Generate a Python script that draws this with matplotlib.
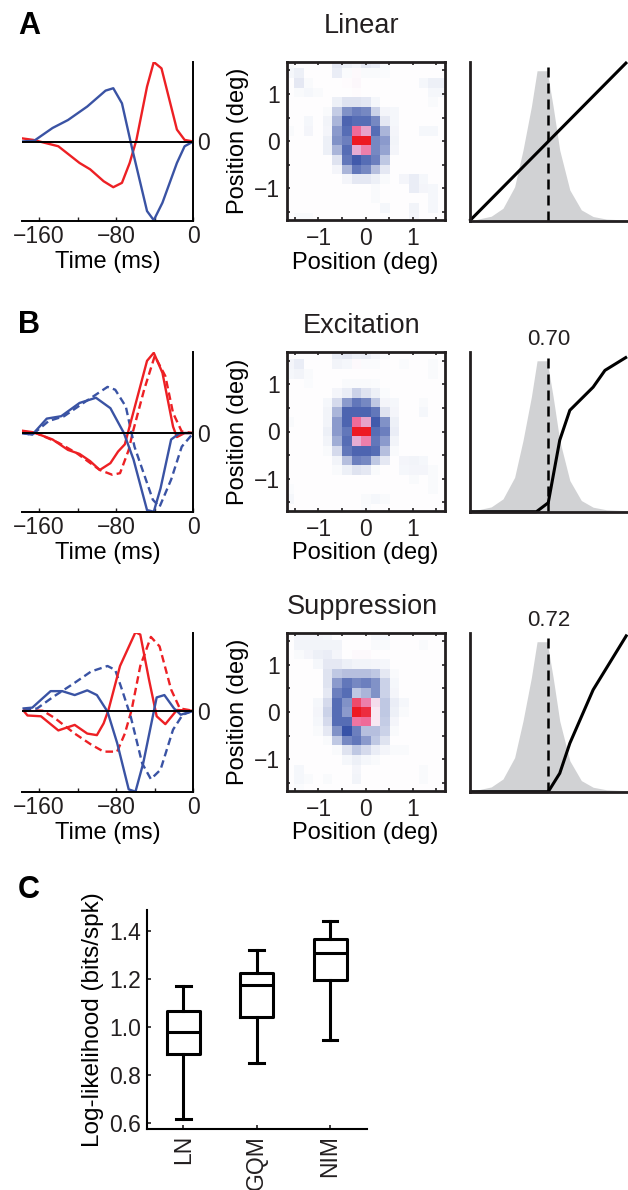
import numpy as np
import matplotlib
matplotlib.use("Agg")
import matplotlib.pyplot as plt
from matplotlib.colors import LinearSegmentedColormap
from matplotlib.ticker import FixedLocator, FormatStrFormatter

plt.rcParams['font.family'] = ['Liberation Sans', 'DejaVu Sans']
plt.rcParams['font.size'] = 16.5
TXT = '#231f20'
plt.rcParams['text.color'] = TXT
plt.rcParams['xtick.color'] = TXT
plt.rcParams['ytick.color'] = TXT
LABEL_SIZE = 17

RED = '#ed2024'
BLUE = '#3a53a4'
GRAY = '#d1d2d4'

# ---- temporal kernels (time in ms, normalized amplitude) ----
lin_red_t = [-178, -166, -140, -118, -107, -93, -83, -74, -66, -59, -48, -41, -33, -17, -9, 0]
lin_red_v = [0.04, 0.02, -0.06, -0.27, -0.35, -0.5, -0.575, -0.52, -0.27, 0.02, 0.69, 1.0, 0.92, 0.15, 0.02, 0]
lin_blue_t = [-178, -165, -146, -130, -110, -91, -83, -74, -64, -48, -41, -32, -17, -9, 0]
lin_blue_v = [0, 0.01, 0.17, 0.27, 0.44, 0.64, 0.67, 0.48, -0.06, -0.875, -0.99, -0.77, -0.27, -0.06, 0]

exc_red_t = [-178, -166, -146, -130, -118, -107, -97, -86, -78, -71, -48, -41, -32, -21, -17, -9, 0]
exc_red_v = [0.03, 0.01, -0.08, -0.21, -0.26, -0.35, -0.46, -0.375, -0.23, -0.14, 0.9, 1.0, 0.75, 0.08, -0.05, 0, 0]
exc_red2_t = [-178, -163, -140, -121, -97, -84, -76, -67, -63, -51, -40, -29, -21, -12, 0]
exc_red2_v = [0.02, 0, -0.12, -0.25, -0.46, -0.52, -0.5, -0.21, 0, 0.54, 0.96, 0.71, 0.25, 0.02, 0]
exc_blue_t = [-178, -167, -152, -137, -118, -101, -86, -72, -62, -48, -41, -34, -23, -14, 0]
exc_blue_v = [0, -0.02, 0.18, 0.21, 0.375, 0.44, 0.31, 0, -0.33, -0.96, -0.98, -0.69, -0.08, 0, 0]
exc_blue2_t = [-178, -167, -150, -134, -114, -89, -81, -70, -61, -42, -35, -23, -12, 0]
exc_blue2_v = [0, -0.02, 0.15, 0.21, 0.375, 0.575, 0.54, 0.33, -0.17, -0.83, -0.92, -0.58, -0.17, 0]

sup_red_t = [-176, -172, -158, -140, -123, -110, -100, -93, -88, -76, -60, -55, -46, -38, -29, -17, 0]
sup_red_v = [0, -0.06, -0.07, -0.25, -0.18, -0.29, -0.31, -0.16, 0.01, 0.57, 1.0, 0.97, 0.4, -0.07, -0.17, 0.01, 0]
sup_red2_t = [-176, -156, -144, -123, -106, -93, -79, -71, -64, -55, -44, -35, -23, -14, 0]
sup_red2_v = [0.01, 0, -0.09, -0.29, -0.43, -0.52, -0.52, -0.29, 0.01, 0.57, 0.94, 0.82, 0.27, 0.03, 0]
sup_blue_t = [-176, -167, -158, -148, -136, -123, -110, -100, -89, -79, -67, -60, -52, -38, -30, -20, -13, 0]
sup_blue_v = [0.03, 0.04, 0.14, 0.25, 0.25, 0.2, 0.26, 0.2, -0.01, -0.41, -1.0, -1.03, -0.67, 0.17, 0.2, 0.03, -0.05, 0]
sup_blue2_t = [-176, -162, -145, -125, -106, -89, -81, -74, -65, -53, -44, -34, -21, -11, 0]
sup_blue2_v = [0, 0.03, 0.18, 0.34, 0.5, 0.57, 0.52, 0.27, -0.07, -0.67, -0.87, -0.75, -0.24, -0.05, 0]

# ---- spatial kernels, 17x17 pixels, values x100 (neg = blue, pos = red) ----
lin_space = [
    [-3, 0, 0, 0, 0, -12, -8, -5, -12, -10, -3, 0, 0, 0, 0, 0, 0],
    [-4, -8, 0, 0, 0, -10, -2, 2, -3, -3, -2, 0, 0, 0, 0, 0, 0],
    [0, -12, -3, 0, 0, 0, 1, 3, 0, 0, 0, 0, 0, 0, -4, -8, -8],
    [0, -3, -4, -3, 0, 0, 0, 1, 0, 0, 0, 0, 0, 0, 0, -4, -4],
    [0, 0, 0, 0, 0, -8, -15, -15, -13, -4, 0, 0, 0, 0, 0, -3, 0],
    [0, 0, 0, 0, -3, -28, -60, -70, -65, -25, -5, -4, 0, 0, 0, 0, 0],
    [0, 0, -4, 0, -6, -40, -85, -80, -80, -65, -12, -4, 0, 0, 0, 0, 0],
    [-3, 0, -5, 0, -5, -55, -80, 60, 35, -80, -40, -5, 0, 0, -4, -4, 0],
    [0, 0, 0, 0, -8, -60, -70, 100, 100, -65, -55, -6, 0, 0, 0, 0, 0],
    [0, 0, 0, 0, -8, -40, -80, 30, 50, -65, -50, -5, 0, 0, 0, 0, 0],
    [0, 0, 0, 0, 0, -15, -75, -90, -80, -70, -30, 0, 0, 0, 0, 0, 0],
    [0, 0, 0, 0, 0, -5, -40, -75, -65, -35, -12, 0, 0, 0, 0, 0, 0],
    [0, 0, 0, 0, 0, 0, -5, -12, -12, -8, -3, 0, -5, -10, -4, 0, 0],
    [0, 0, 0, 0, 0, 0, 0, 0, 0, -3, 0, 0, 0, -10, -5, -4, 0],
    [0, 0, 0, 0, 0, 0, 0, 0, 0, -3, 0, 0, 0, 0, 0, -4, 0],
    [0, 0, 0, 0, 0, 0, 0, 0, 0, 0, -4, 0, 0, -6, 0, -4, 0],
    [0, -3, -3, 0, 0, 0, 0, 0, 0, 0, 0, 0, 0, -5, 0, 0, 0],
]
exc_space = [
    [0, 0, 0, 0, 0, -10, -12, -8, -10, -5, -2, 0, 0, 0, 0, 0, 0],
    [-5, -10, 0, 0, 0, -6, -4, 2, -2, -2, 0, 0, -2, 0, 0, -3, 0],
    [-4, -6, -3, 0, 0, 0, 0, 0, 0, 0, 0, 0, 0, 0, 0, -3, 0],
    [0, 0, -2, 0, 0, 0, -3, -3, -3, -2, 0, 0, 0, 0, 0, 0, 0],
    [0, 0, 0, 0, 0, -5, -10, -25, -15, -8, -2, 0, 0, 0, 0, 0, 0],
    [0, 0, 0, 0, -4, -20, -55, -75, -65, -30, -5, -4, 0, 0, -3, 0, 0],
    [0, 0, 0, 0, -6, -40, -85, -85, -85, -75, -15, -5, 0, 0, -4, 0, 0],
    [-3, 0, 0, 0, -6, -55, -85, 60, 35, -90, -60, -8, 0, 0, 0, 0, 0],
    [0, 0, 0, 0, -8, -55, -75, 100, 100, -80, -70, -10, 0, 0, 0, 0, 0],
    [0, 0, 0, 0, -6, -45, -80, 30, 50, -75, -55, -6, 0, 0, 0, 0, 0],
    [0, 0, 0, 0, -3, -20, -75, -85, -85, -80, -35, -3, 0, 0, 0, 0, 0],
    [0, 0, 0, 0, 0, -6, -35, -70, -65, -30, -12, 0, -5, -6, -4, 0, 0],
    [0, 0, 0, 0, 0, -3, -8, -15, -12, -3, 0, 0, -4, -5, -5, -3, 0],
    [0, 0, 0, 0, 0, 0, 0, 0, 0, 0, 0, 0, 0, -3, 0, -3, 0],
    [-2, 0, 0, 0, 0, 0, 0, 0, 0, 0, 0, 0, 0, 0, 0, -3, 0],
    [-4, 0, 0, 0, 0, 0, 0, 0, -3, -4, -3, 0, 0, 0, 0, 0, 0],
    [0, 0, 0, 0, 0, 0, 0, 0, -2, 0, 0, 0, 0, 0, 0, 0, 0],
]
sup_space = [
    [0, -5, -5, -5, -4, 0, 0, 0, 0, -4, -4, 0, 0, 0, 0, 0, 0],
    [0, -6, -6, -6, -6, -6, 0, 0, 0, -3, -3, 0, 0, 0, -3, 0, 0],
    [0, -3, -5, -8, -10, -5, 0, 2, 2, 0, 0, 0, 0, 0, 0, 0, 0],
    [0, 0, 0, -4, -12, -12, -8, -6, -6, -5, -4, 0, 0, 0, 0, 0, 0],
    [0, 0, 0, 0, -15, -30, -35, -35, -35, -30, -12, -3, 0, 0, 0, 0, 0],
    [0, 0, 0, 0, -15, -55, -75, -65, -70, -60, -25, -4, 0, 0, 0, 0, 0],
    [0, 0, 0, 0, -12, -70, -80, -30, -40, -60, -25, -5, 0, 0, 0, 0, 0],
    [0, 0, 0, -4, -20, -80, -60, 75, 50, 12, -30, -10, -4, 0, 0, 0, 0],
    [0, 0, 0, -5, -25, -80, -55, 100, 90, 8, -30, -8, -3, 0, 0, 0, 0],
    [0, 0, 0, -4, -20, -80, -80, 55, 60, 8, -28, -5, 0, 0, 0, 0, 0],
    [0, 0, 0, -3, -12, -60, -95, -70, -35, -35, -25, -3, 0, 0, 0, 0, 0],
    [0, 0, 0, 0, -3, -30, -65, -75, -55, -30, -15, 0, 0, 0, 0, 0, 0],
    [0, 0, 0, 0, 0, -3, -15, -30, -20, -10, -5, -3, -3, 0, 0, 0, 0],
    [0, 0, 0, 0, 0, 0, -4, -8, -4, -3, 0, 0, 0, 0, 0, 0, 0],
    [0, -4, 0, 0, 0, 0, 0, -5, 0, 0, 0, 0, 0, 0, -3, 0, 0],
    [0, -4, -3, 0, -3, 0, 0, -6, 0, 0, 0, 0, 0, 0, -3, 0, 0],
    [0, -2, 0, 0, 0, 0, 0, 0, 0, 0, 0, 0, 0, 0, 0, 0, 0],
]
pix_deg = 0.2035

# ---- nonlinearities (generator signal, normalized) ----
hist_x = [-1, -0.724, -0.575, -0.427, -0.321, -0.214, -0.142, -0.015, 0.062, 0.146, 0.274, 0.42, 0.57, 0.74, 1.0]
hist_y = [0, 0.03, 0.08, 0.215, 0.445, 0.72, 0.945, 0.945, 0.72, 0.445, 0.195, 0.07, 0.028, 0.012, 0.006]
lin_nl_x = [-1, 1]
lin_nl_y = [0, 1.0]
exc_nl_x = [-1, -0.15, 0, 0.146, 0.274, 0.57, 0.72, 1.0]
exc_nl_y = [0, 0, 0.056, 0.448, 0.635, 0.78, 0.885, 0.97]
sup_nl_x = [-1, 0, 0.146, 0.274, 0.57, 1.0]
sup_nl_y = [0, 0, 0.116, 0.305, 0.642, 0.99]
thr_labels = [None, '0.70', '0.72']

# ---- panel C: log-likelihood box stats ----
models = ['LN', 'GQM', 'NIM']
ll_whislo = [0.618, 0.852, 0.947]
ll_q1 = [0.887, 1.044, 1.196]
ll_med = [0.979, 1.174, 1.307]
ll_q3 = [1.067, 1.227, 1.367]
ll_whishi = [1.173, 1.321, 1.443]

W, H = 628, 1190
fig = plt.figure(figsize=(W / 100, H / 100), dpi=100)


def px_axes(l, t, r, b):
    return fig.add_axes([l / W, 1 - b / H, (r - l) / W, (b - t) / H])


cmap = LinearSegmentedColormap.from_list(
    'bwr_nim',
    [(0.0, (0.18, 0.29, 0.64)), (0.5, (1, 1, 1)), (0.65, (0.9, 0.68, 0.83)),
     (0.8, (0.94, 0.42, 0.6)), (1.0, (0.93, 0.1, 0.14))])

rows_px = [(62, 221), (352, 511.7), (633, 791.7)]
ylims = [(-1.0, 1.0), (-0.98, 1.01), (-1.03, 0.99)]
temporal = [
    [(lin_red_t, lin_red_v, RED, '-'), (lin_blue_t, lin_blue_v, BLUE, '-')],
    [(exc_red2_t, exc_red2_v, RED, '--'), (exc_blue2_t, exc_blue2_v, BLUE, '--'),
     (exc_red_t, exc_red_v, RED, '-'), (exc_blue_t, exc_blue_v, BLUE, '-')],
    [(sup_red2_t, sup_red2_v, RED, '--'), (sup_blue2_t, sup_blue2_v, BLUE, '--'),
     (sup_red_t, sup_red_v, RED, '-'), (sup_blue_t, sup_blue_v, BLUE, '-')],
]
spaces = [lin_space, exc_space, sup_space]
nls = [(lin_nl_x, lin_nl_y), (exc_nl_x, exc_nl_y), (sup_nl_x, sup_nl_y)]

for i, (top, bot) in enumerate(rows_px):
    # temporal kernel
    ax = px_axes(21.7, top, 193.3, bot)
    for t, v, c, ls in temporal[i]:
        line, = ax.plot(t, v, color=c, lw=1.7, ls=ls)
        if ls == '--':
            line.set_dashes((3.2, 1.8))
    ax.axhline(0, color='black', lw=1.4, zorder=3)
    ax.set_xlim(-178, 0)
    ax.set_ylim(*ylims[i])
    for s in ['left', 'top']:
        ax.spines[s].set_visible(False)
    for s in ['right', 'bottom']:
        ax.spines[s].set_linewidth(1.4)
    ax.xaxis.set_major_locator(FixedLocator([-160, -80, 0]))
    ax.xaxis.set_minor_locator(FixedLocator([-120, -40]))
    ax.set_xticklabels(['\u2212160', '\u221280', '0'])
    ax.tick_params(axis='x', which='both', direction='in', length=3, width=1, pad=3)
    ax.yaxis.tick_right()
    ax.set_yticks([0])
    ax.set_yticklabels(['0'])
    ax.tick_params(axis='y', direction='in', length=0, pad=3)
    ax.set_xlabel('Time (ms)', fontsize=LABEL_SIZE, labelpad=2)

    # spatial kernel
    ax = px_axes(286.5, top, 444.5, bot - 0.7)
    img = np.array(spaces[i]) / 100.0
    half = pix_deg * img.shape[0] / 2
    ax.imshow(img, cmap=cmap, vmin=-1, vmax=1, interpolation='nearest',
              extent=(-half, half, -half, half), origin='upper')
    ax.set_xlim(-1.68, 1.68)
    ax.set_ylim(-1.68, 1.68)
    ax.set_aspect('auto')
    for s in ax.spines.values():
        s.set_linewidth(2)
        s.set_color(TXT)
    for axis in (ax.xaxis, ax.yaxis):
        axis.set_major_locator(FixedLocator([-1, 0, 1]))
        axis.set_minor_locator(FixedLocator([-1.5, -0.5, 0.5, 1.5]))
    ax.set_xticklabels(['\u22121', '0', '1'])
    ax.set_yticklabels(['\u22121', '0', '1'])
    ax.tick_params(which='both', direction='in', length=2.5, width=1.2,
                   top=True, right=True, pad=5)
    ax.set_xlabel('Position (deg)', fontsize=LABEL_SIZE, labelpad=1)
    ax.set_ylabel('Position (deg)', fontsize=LABEL_SIZE, labelpad=3)

    # nonlinearity
    ax = px_axes(469.5, top, 627, bot)
    ax.fill_between(hist_x, hist_y, 0, color=GRAY, lw=0)
    dash, = ax.plot([0, 0], [0, 1], color='black', lw=1.8, transform=ax.get_xaxis_transform())
    dash.set_dashes((4, 2.4))
    nx, ny = nls[i]
    ax.plot(nx, ny, color='black', lw=2.2, solid_capstyle='butt', clip_on=False)
    ax.set_xlim(-1, 1)
    ax.set_ylim(0, 1)
    for s in ['right', 'top']:
        ax.spines[s].set_visible(False)
    for s in ['left', 'bottom']:
        ax.spines[s].set_linewidth(2)
        ax.spines[s].set_color(TXT)
    ax.set_xticks([])
    ax.set_yticks([])
    if thr_labels[i]:
        ax.text(0, 1.01, thr_labels[i], transform=ax.get_xaxis_transform(),
                ha='center', va='bottom', fontsize=16)

# titles and panel letters
fig.text(362 / W, 1 - 26 / H, 'Linear', ha='center', va='center', fontsize=19.5)
fig.text(362 / W, 1 - 326 / H, 'Excitation', ha='center', va='center', fontsize=19.5)
fig.text(362 / W, 1 - 607 / H, 'Suppression', ha='center', va='center', fontsize=19.5)
for lab, yy in [('A', 26), ('B', 325), ('C', 890)]:
    fig.text(18 / W, 1 - yy / H, lab, ha='left', va='center', fontsize=22,
             fontweight='bold', color='black')

# panel C
ax = px_axes(146.7, 910, 366.7, 1129.3)
stats = []
for k in range(len(models)):
    stats.append(dict(med=ll_med[k], q1=ll_q1[k], q3=ll_q3[k],
                      whislo=ll_whislo[k], whishi=ll_whishi[k], fliers=[]))
lw = 2.2
ax.bxp(stats, positions=[1, 2, 3], widths=0.45, capwidths=0.2, showfliers=False,
       boxprops=dict(color='black', lw=lw), whiskerprops=dict(color='black', lw=lw),
       capprops=dict(color='black', lw=lw), medianprops=dict(color='black', lw=lw))
ax.set_xlim(0.5, 3.5)
ax.set_ylim(0.575, 1.487)
ax.set_yticks([0.6, 0.8, 1.0, 1.2, 1.4])
ax.yaxis.set_major_formatter(FormatStrFormatter('%.1f'))
ax.set_xticks([1, 2, 3])
ax.set_xticklabels(models, rotation=90, fontsize=16.5)
for s in ['right', 'top']:
    ax.spines[s].set_visible(False)
for s in ['left', 'bottom']:
    ax.spines[s].set_linewidth(1.5)
ax.tick_params(axis='y', labelsize=16.5)
ax.tick_params(direction='in', length=3, width=1.2, pad=4)
ax.set_ylabel('Log-likelihood (bits/spk)', fontsize=17.5, labelpad=4)

fig.savefig('out.png', dpi=100)
